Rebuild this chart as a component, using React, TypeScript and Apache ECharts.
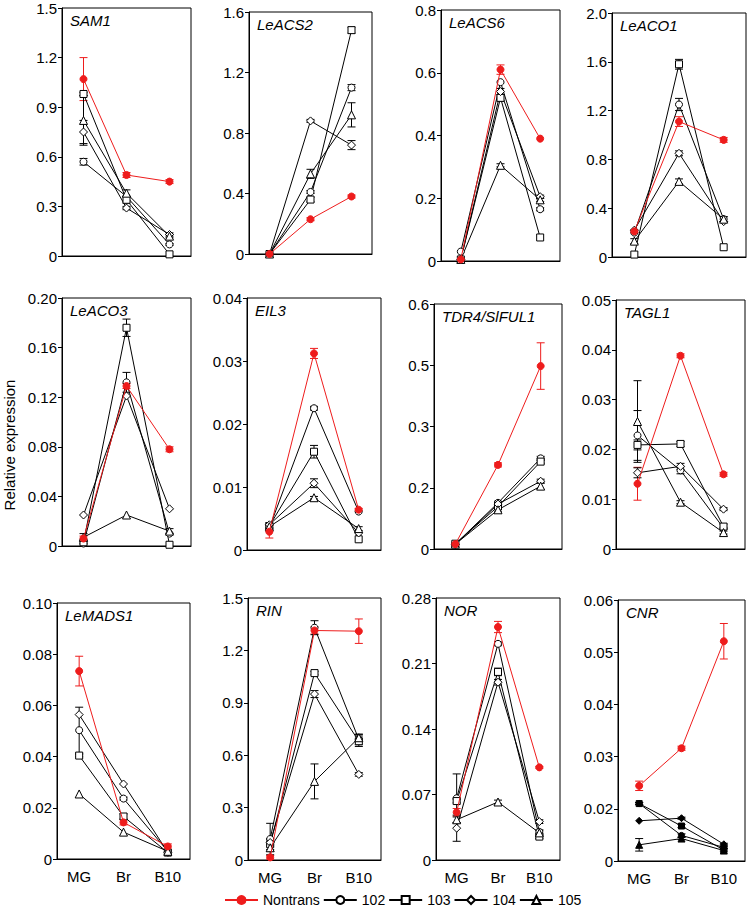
import React, { useEffect, useRef } from "react";
import * as echarts from "echarts";

const stages = ["MG", "Br", "B10"];
const lineNames = ["Nontrans", "102", "103", "104", "105"];
const symbols = ["circle", "circle", "rect", "diamond", "triangle"];
const symbolSizes = [7, 7, 7, 8, 8];
const RED = "#ee1c1c";

const geneNames = ["SAM1", "LeACS2", "LeACS6", "LeACO1", "LeACO3", "EIL3", "TDR4/SlFUL1", "TAGL1", "LeMADS1", "RIN", "NOR", "CNR"];

// values: [Nontrans, 102, 103, 104, 105] x [MG, Br, B10]
const sam1Values = [[1.07, 0.49, 0.45], [0.57, 0.36, 0.07], [0.98, 0.34, 0.01], [0.75, 0.29, 0.13], [0.82, 0.38, 0.12]];
const sam1Errors = [[0.13, 0.015, 0.012], [0.02, 0, 0.005], [0.01, 0.02, 0], [0.07, 0.01, 0.01], [0.15, 0.02, 0.01]];
const acs2Values = [[0, 0.23, 0.38], [0, 0.41, 1.1], [0, 0.36, 1.48], [0, 0.88, 0.72], [0, 0.53, 0.92]];
const acs2Errors = [[0, 0.01, 0.01], [0, 0.01, 0.02], [0, 0.015, 0.02], [0, 0.01, 0.03], [0, 0.03, 0.08]];
const acs6Values = [[0.005, 0.61, 0.39], [0.03, 0.57, 0.165], [0.005, 0.52, 0.075], [0.005, 0.54, 0.205], [0.005, 0.305, 0.195]];
const acs6Errors = [[0, 0.015, 0], [0, 0, 0.005], [0, 0.01, 0], [0, 0.01, 0.005], [0, 0.005, 0.005]];
const aco1Values = [[0.21, 1.11, 0.96], [0.2, 1.25, 0.31], [0.02, 1.58, 0.08], [0.22, 0.85, 0.29], [0.13, 0.62, 0.31]];
const aco1Errors = [[0.01, 0.04, 0.02], [0, 0.05, 0.02], [0, 0.04, 0], [0, 0.02, 0], [0.02, 0.02, 0.02]];
const aco3Values = [[0.006, 0.129, 0.078], [0.002, 0.132, 0.01], [0.003, 0.176, 0.001], [0.025, 0.121, 0.03], [0.007, 0.025, 0.012]];
const aco3Errors = [[0.002, 0.002, 0.002], [0, 0.008, 0], [0, 0.007, 0], [0, 0, 0], [0.003, 0, 0.002]];
const eil3Values = [[0.0029, 0.0312, 0.0064], [0.0035, 0.0225, 0.0061], [0.0038, 0.0156, 0.0017], [0.004, 0.0106, 0.0027], [0.0037, 0.0083, 0.0034]];
const eil3Errors = [[0.001, 0.0008, 0.0002], [0.0005, 0.0003, 0], [0.0005, 0.001, 0], [0, 0.0007, 0], [0, 0.0002, 0.0003]];
const tdr4Values = [[0.012, 0.206, 0.448], [0.012, 0.113, 0.222], [0.013, 0.104, 0.214], [0.011, 0.11, 0.166], [0.012, 0.096, 0.154]];
const tdr4Errors = [[0.005, 0.005, 0.057], [0, 0.004, 0.005], [0, 0.004, 0.004], [0, 0.004, 0.005], [0, 0.005, 0.008]];
const tagl1Values = [[0.0131, 0.0388, 0.015], [0.0228, 0.0158, 0.0042], [0.0209, 0.0211, 0.0045], [0.0153, 0.0166, 0.008], [0.0256, 0.0094, 0.0033]];
const tagl1Errors = [[0.0033, 0.0004, 0.0004], [0.005, 0.0007, 0], [0.001, 0.0005, 0.0005], [0.001, 0.0006, 0.0003], [0.0082, 0.0003, 0.0003]];
const mads1Values = [[0.0734, 0.0143, 0.0049], [0.0503, 0.0236, 0.003], [0.0404, 0.0166, 0.0025], [0.0564, 0.0293, 0.0026], [0.0254, 0.0105, 0.003]];
const mads1Errors = [[0.0058, 0.001, 0.001], [0.009, 0.0006, 0], [0.0005, 0.001, 0], [0, 0, 0], [0, 0, 0]];
const rinValues = [[0.015, 1.314, 1.31], [0.12, 1.33, 0.69], [0.09, 1.07, 0.68], [0.1, 0.95, 0.49], [0.07, 0.45, 0.7]];
const rinErrors = [[0.01, 0.02, 0.07], [0.09, 0.04, 0.03], [0.03, 0.01, 0.03], [0.02, 0.02, 0.01], [0.02, 0.1, 0.02]];
const norValues = [[0.051, 0.249, 0.099], [0.066, 0.231, 0.03], [0.063, 0.201, 0.025], [0.034, 0.19, 0.041], [0.043, 0.062, 0.029]];
const norErrors = [[0.004, 0.006, 0.001], [0.026, 0.002, 0.002], [0.002, 0.004, 0.002], [0.014, 0.003, 0.002], [0.003, 0.002, 0.003]];
const cnrValues = [[0.0244, 0.0316, 0.0521], [0.021, 0.0149, 0.0126], [0.021, 0.0167, 0.0121], [0.0177, 0.0182, 0.0132], [0.0131, 0.0143, 0.012]];
const cnrErrors = [[0.0009, 0.0004, 0.0034], [0.0002, 0.0003, 0.0002], [0.0002, 0.0003, 0.0002], [0, 0.0002, 0.0002], [0.0012, 0.0002, 0]];

const allValues = [sam1Values, acs2Values, acs6Values, aco1Values, aco3Values, eil3Values, tdr4Values, tagl1Values, mads1Values, rinValues, norValues, cnrValues];
const allErrors = [sam1Errors, acs2Errors, acs6Errors, aco1Errors, aco3Errors, eil3Errors, tdr4Errors, tagl1Errors, mads1Errors, rinErrors, norErrors, cnrErrors];

const yMins = [0, 0, 0, 0, 0, 0, 0, 0, 0, 0, 0, 0.01];
const yMaxs = [1.5, 1.6, 0.8, 2.0, 0.2, 0.04, 0.6, 0.05, 0.1, 1.5, 0.28, 0.06];
const yIntervals = [0.3, 0.4, 0.2, 0.4, 0.04, 0.01, 0.15, 0.01, 0.02, 0.3, 0.07, 0.01];
const yTickLabels = [
  ["0", "0.3", "0.6", "0.9", "1.2", "1.5"],
  ["0", "0.4", "0.8", "1.2", "1.6"],
  ["0", "0.2", "0.4", "0.6", "0.8"],
  ["0", "0.4", "0.8", "1.2", "1.6", "2.0"],
  ["0", "0.04", "0.08", "0.12", "0.16", "0.20"],
  ["0", "0.01", "0.02", "0.03", "0.04"],
  ["0", "0.2", "0.3", "0.5", "0.6"],
  ["0", "0.01", "0.02", "0.03", "0.04", "0.05"],
  ["0", "0.02", "0.04", "0.06", "0.08", "0.10"],
  ["0", "0.3", "0.6", "0.9", "1.2", "1.5"],
  ["0", "0.07", "0.14", "0.21", "0.28"],
  ["0", "0.02", "0.03", "0.04", "0.05", "0.06"],
];

// plot boxes: [left, top, right, bottom]
const boxes = [
  [62, 8, 191, 256],
  [249, 12, 372, 254],
  [441, 10, 560, 261],
  [612, 13, 746, 257],
  [62, 298, 191, 546],
  [247, 298, 381, 550],
  [434, 304, 562, 549],
  [616, 300, 745, 549],
  [57, 603, 190, 859],
  [248, 598, 381, 860],
  [436, 598, 560, 860],
  [618, 600, 745, 861],
];

const FONT = "Liberation Sans, Arial, sans-serif";

function buildOption() {
  const grids: any[] = [];
  const xAxes: any[] = [];
  const yAxes: any[] = [];
  const series: any[] = [];
  const titles: any[] = [];

  boxes.forEach((b, i) => {
    const [l, t, r, bt] = b;
    grids.push({ left: l, top: t, width: r - l, height: bt - t, show: true, borderColor: "#000", borderWidth: 1, containLabel: false });
    xAxes.push({
      type: "category",
      gridIndex: i,
      data: stages,
      boundaryGap: true,
      axisLine: { lineStyle: { color: "#000", width: 1 } },
      axisTick: { inside: true, length: 4, lineStyle: { color: "#000" } },
      axisLabel: { show: i >= 8, color: "#000", fontSize: 15, margin: 10, fontFamily: FONT },
      splitLine: { show: false },
    });
    const labels = yTickLabels[i];
    yAxes.push({
      type: "value",
      gridIndex: i,
      min: yMins[i],
      max: yMaxs[i],
      interval: yIntervals[i],
      axisLine: { show: true, lineStyle: { color: "#000", width: 1 } },
      axisTick: { show: true, inside: false, length: 4, lineStyle: { color: "#000" } },
      axisLabel: { color: "#000", fontSize: 15, margin: 5, fontFamily: FONT, formatter: (_v: number, idx: number) => labels[idx] ?? "" },
      splitLine: { show: false },
    });
    titles.push({
      text: geneNames[i],
      left: l + 8,
      top: t + 5,
      padding: 0,
      textStyle: { fontStyle: "italic", fontWeight: "normal", fontSize: 15, color: "#000", fontFamily: FONT },
    });

    const vals = allValues[i];
    const errs = allErrors[i];
    const filledBlack = i === 11;
    lineNames.forEach((name, k) => {
      const isRed = k === 0;
      series.push({
        name,
        type: "line",
        xAxisIndex: i,
        yAxisIndex: i,
        data: vals[k],
        symbol: symbols[k],
        symbolSize: isRed ? 7 : filledBlack ? symbolSizes[k] - 1 : symbolSizes[k],
        showAllSymbol: true,
        lineStyle: { color: isRed ? RED : "#000", width: 1 },
        itemStyle: { color: isRed ? RED : filledBlack ? "#000" : "#fff", borderColor: isRed ? RED : "#000", borderWidth: 1 },
        z: isRed ? 4 : 3,
      });
    });
    const errData: any[] = [];
    lineNames.forEach((_n, k) => {
      stages.forEach((_s, c) => {
        const e = errs[k][c];
        if (e > 0) errData.push([c, vals[k][c], e, k]);
      });
    });
    series.push({
      type: "custom",
      xAxisIndex: i,
      yAxisIndex: i,
      data: errData,
      encode: { x: 0, y: 1 },
      z: 2,
      silent: true,
      renderItem: (_params: any, api: any) => {
        const c = api.value(0);
        const v = api.value(1);
        const e = api.value(2);
        const k = api.value(3);
        const top = api.coord([c, v + e]);
        const bot = api.coord([c, v - e]);
        const w = 4;
        const color = k === 0 ? RED : "#000";
        const style = { stroke: color, lineWidth: 1 };
        return {
          type: "group",
          children: [
            { type: "line", shape: { x1: top[0], y1: top[1], x2: bot[0], y2: bot[1] }, style },
            { type: "line", shape: { x1: top[0] - w, y1: top[1], x2: top[0] + w, y2: top[1] }, style },
            { type: "line", shape: { x1: bot[0] - w, y1: bot[1], x2: bot[0] + w, y2: bot[1] }, style },
          ],
        };
      },
    });
  });

  return {
    animation: false,
    backgroundColor: "#fff",
    title: titles,
    grid: grids,
    xAxis: xAxes,
    yAxis: yAxes,
    series,
    legend: {
      data: lineNames,
      top: 893,
      left: 224,
      itemWidth: 33,
      itemHeight: 10,
      itemGap: 3,
      padding: 0,
      textStyle: { color: "#000", fontSize: 14, fontFamily: FONT },
    },
    graphic: [
      {
        type: "text",
        x: 9,
        y: 445,
        rotation: Math.PI / 2,
        style: { text: "Relative expression", fill: "#000", font: `15px ${FONT}`, textAlign: "center", textVerticalAlign: "middle" },
      },
    ],
  };
}

export default function App() {
  const ref = useRef<HTMLDivElement>(null);
  useEffect(() => {
    if (!ref.current) return;
    const chart = echarts.init(ref.current, undefined, { renderer: "svg" });
    chart.setOption(buildOption() as any);
    return () => chart.dispose();
  }, []);
  return <div ref={ref} style={{ position: "fixed", left: 0, top: 0, width: 749, height: 912, background: "#fff" }} />;
}
